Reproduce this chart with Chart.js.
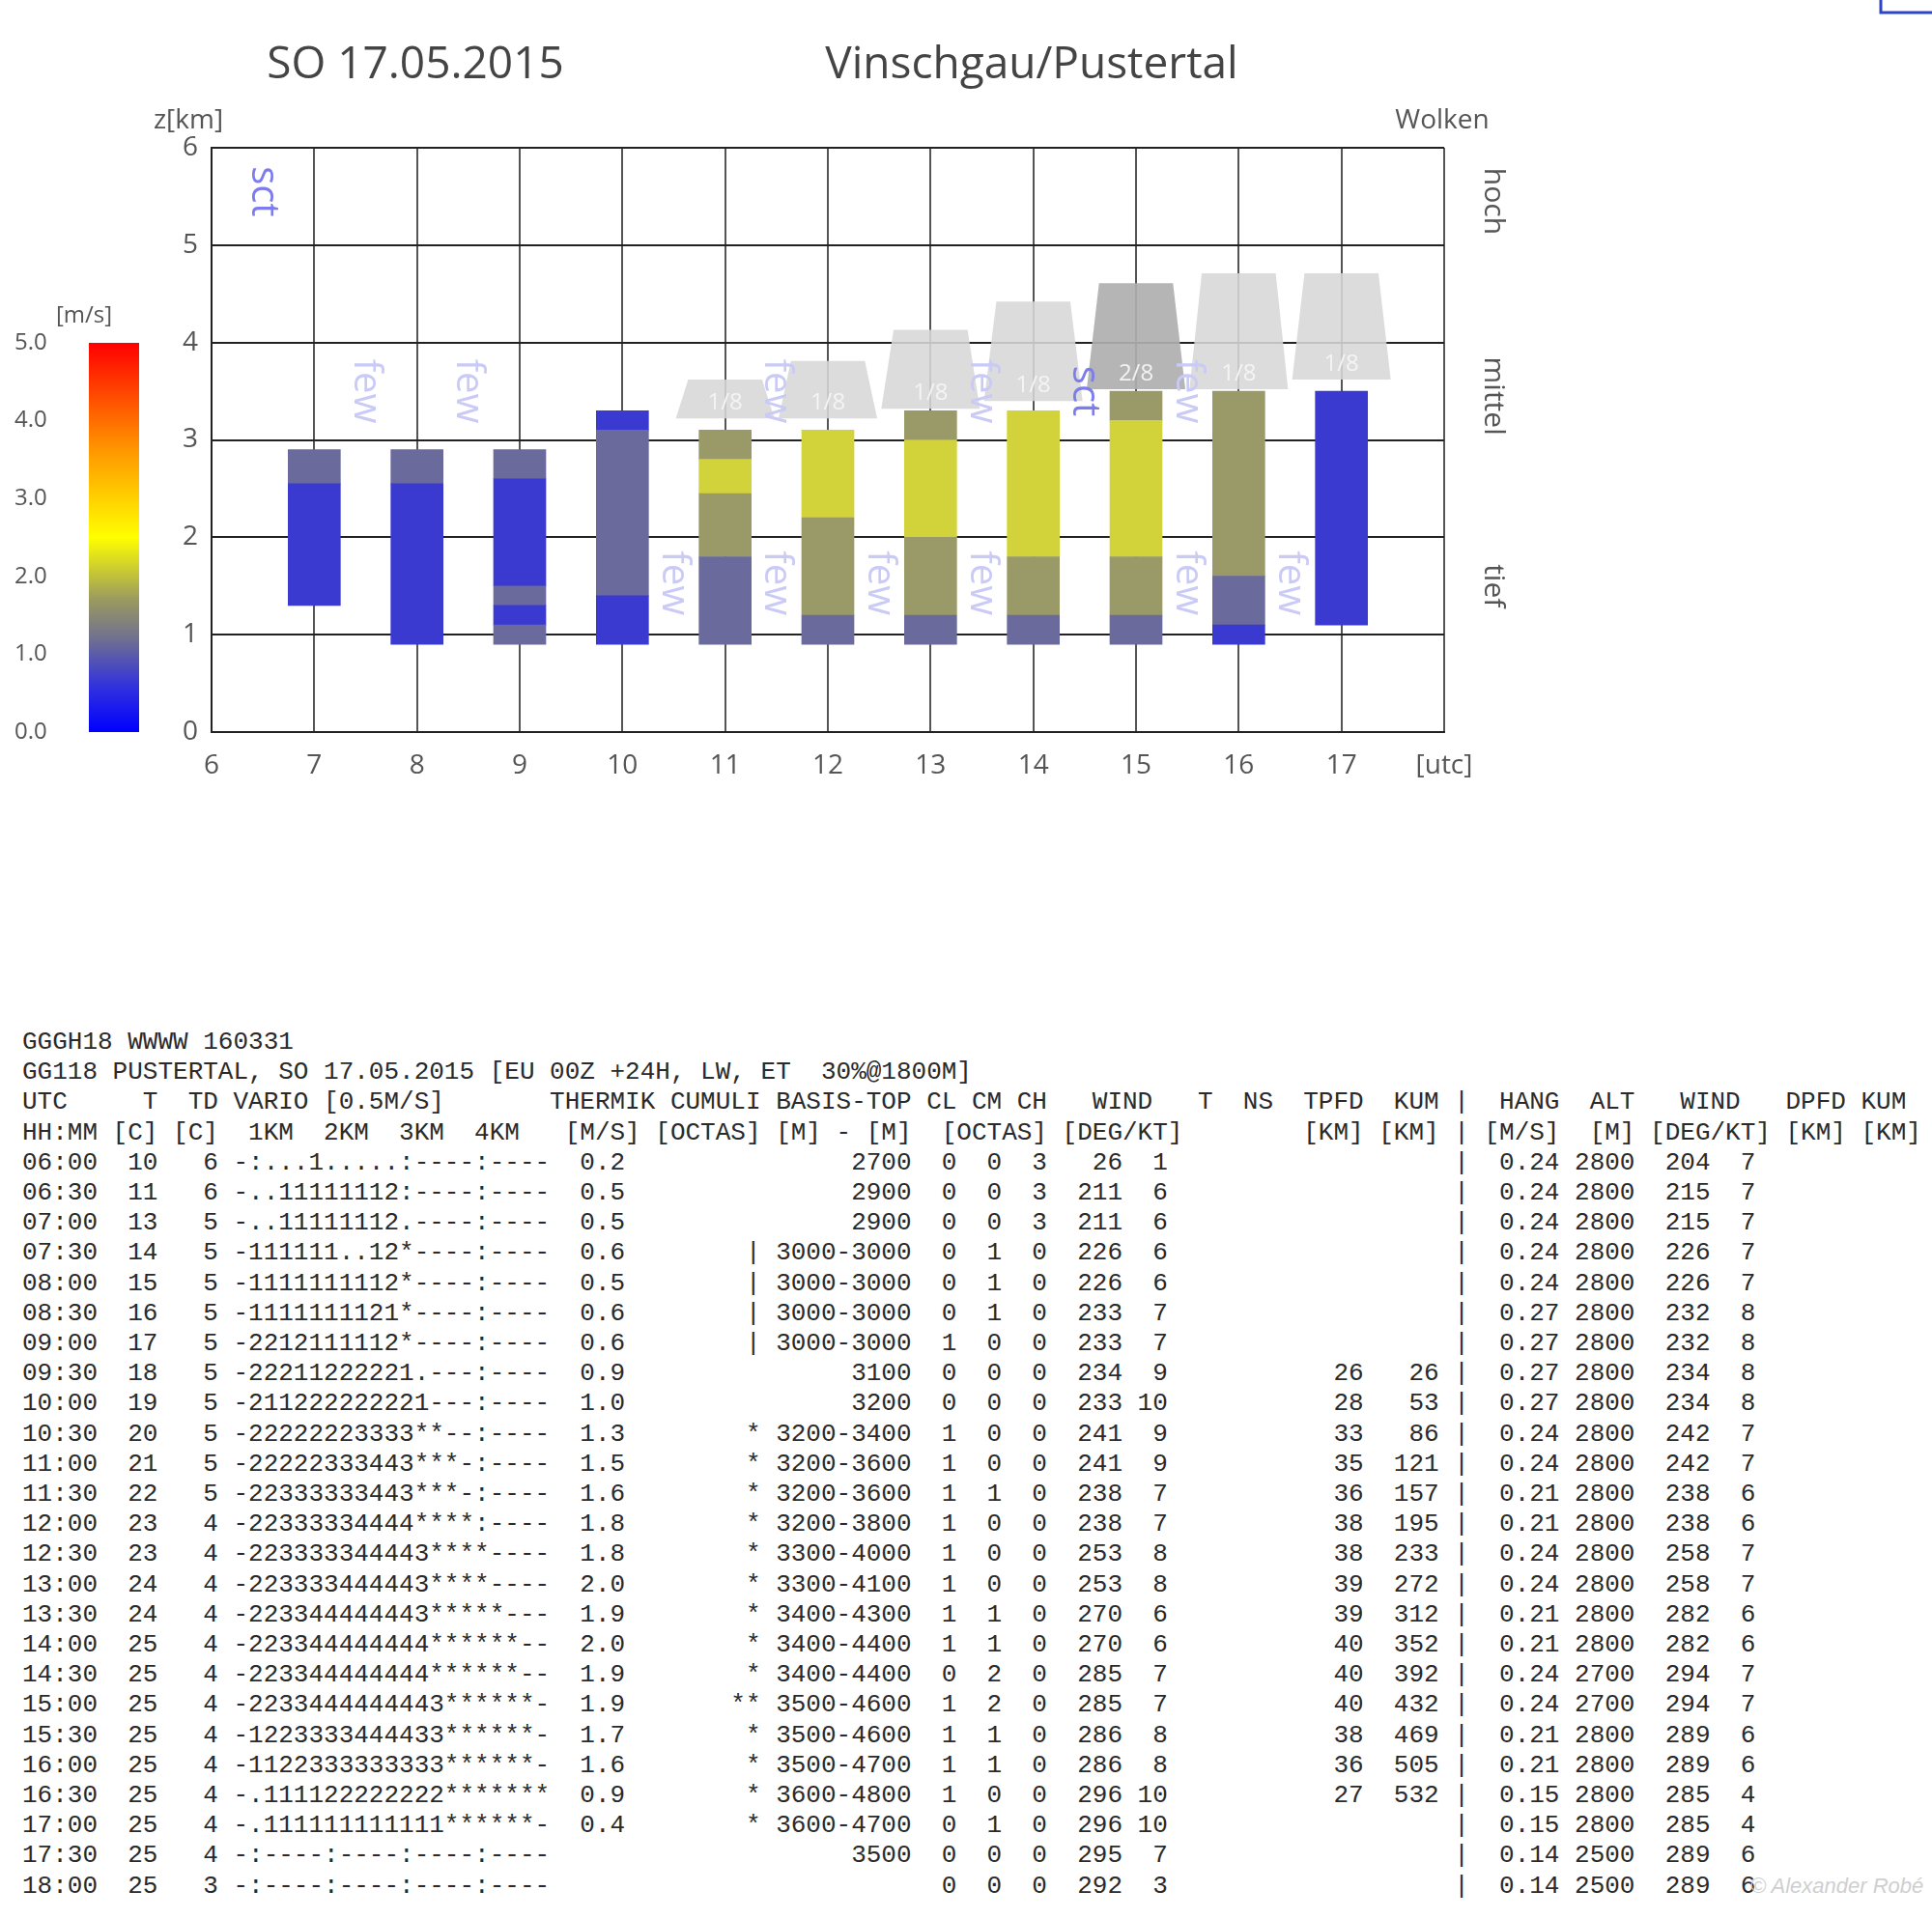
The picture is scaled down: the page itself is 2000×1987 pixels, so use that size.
<!DOCTYPE html>
<html><head><meta charset="utf-8">
<script src="https://cdn.jsdelivr.net/npm/chart.js@4"></script>
<style>
html,body{margin:0;padding:0;background:#fff;width:2000px;height:1987px;overflow:hidden;}
#wrap{position:absolute;left:0;top:0;width:2000px;height:830px;}
#tbl{position:absolute;left:23px;top:1064px;margin:0;font-family:"Liberation Mono",monospace;font-size:26px;line-height:31.2px;color:#2a2a2a;white-space:pre;}
#wm{position:absolute;left:1812px;top:1940px;font-family:"Liberation Sans",sans-serif;font-style:italic;font-size:22px;color:#cfcfcf;}
</style></head><body>
<div id="wrap"><canvas id="c" width="2000" height="830"></canvas></div>
<pre id="tbl"></pre>
<div id="wm">© Alexander Robé</div>
<script>
// ---- data ----
const hourTicks = [6,7,8,9,10,11,12,13,14,15,16,17,18];
const heightTicks = [0,1,2,3,4,5,6];
const colorbarTicks = ['0.0','1.0','2.0','3.0','4.0','5.0'];
// thermal column segments (hour, from km, to km, vario m/s)
const segHour  = [7,7, 8,8, 9,9,9,9,9, 10,10,10, 11,11,11,11, 12,12,12, 13,13,13,13, 14,14,14, 15,15,15,15, 16,16,16, 17];
const segFrom  = [1.3,2.55, 0.9,2.55, 0.9,1.1,1.3,1.5,2.6, 0.9,1.4,3.1, 0.9,1.8,2.45,2.8, 0.9,1.2,2.2, 0.9,1.2,2.0,3.0, 0.9,1.2,1.8, 0.9,1.2,1.8,3.2, 0.9,1.1,1.6, 1.1];
const segTo    = [2.55,2.9, 2.55,2.9, 1.1,1.3,1.5,2.6,2.9, 1.4,3.1,3.3, 1.8,2.45,2.8,3.1, 1.2,2.2,3.1, 1.2,2.0,3.0,3.3, 1.2,1.8,3.3, 1.2,1.8,3.2,3.5, 1.1,1.6,3.5, 3.5];
const segVario = [0.5,1.0, 0.5,1.0, 1.0,0.5,1.0,0.5,1.0, 0.5,1.0,0.5, 1.0,1.5,2.0,1.5, 1.0,1.5,2.0, 1.0,1.5,2.0,1.5, 1.0,1.5,2.0, 1.0,1.5,2.0,1.5, 0.5,1.0,1.5, 0.5];
// cumulus clouds
const cloudHour  = [11,12,13,14,15,16,17];
const cloudBase  = [3.22,3.22,3.32,3.4,3.52,3.52,3.62];
const cloudTop   = [3.62,3.81,4.13,4.42,4.61,4.71,4.71];
const cloudCover = ['1/8','1/8','1/8','1/8','2/8','1/8','1/8'];
// cloud text labels (hour position, km position, text)
const tagHour = [6.5, 7.5,8.5,11.5,13.5,14.5,15.5, 10.5,11.5,12.5,13.5,15.5,16.5];
const tagKm   = [5.55, 3.5,3.5,3.5,3.5,3.5,3.5, 1.53,1.53,1.53,1.53,1.53,1.53];
const tagText = ['sct','few','few','few','few','sct','few','few','few','few','few','few','few'];

const tableHead = [
 'GGGH18 WWWW 160331',
 'GG118 PUSTERTAL, SO 17.05.2015 [EU 00Z +24H, LW, ET  30%@1800M]'
];
const tableRows = [
['06:00','10','6','-:...1.....:----:----','0.2','','2700','0','0','3','26','1','','','0.24','2800','204','7'],
['06:30','11','6','-..11111112:----:----','0.5','','2900','0','0','3','211','6','','','0.24','2800','215','7'],
['07:00','13','5','-..11111112.----:----','0.5','','2900','0','0','3','211','6','','','0.24','2800','215','7'],
['07:30','14','5','-111111..12*----:----','0.6','|','3000-3000','0','1','0','226','6','','','0.24','2800','226','7'],
['08:00','15','5','-1111111112*----:----','0.5','|','3000-3000','0','1','0','226','6','','','0.24','2800','226','7'],
['08:30','16','5','-1111111121*----:----','0.6','|','3000-3000','0','1','0','233','7','','','0.27','2800','232','8'],
['09:00','17','5','-2212111112*----:----','0.6','|','3000-3000','1','0','0','233','7','','','0.27','2800','232','8'],
['09:30','18','5','-22211222221.---:----','0.9','','3100','0','0','0','234','9','26','26','0.27','2800','234','8'],
['10:00','19','5','-211222222221---:----','1.0','','3200','0','0','0','233','10','28','53','0.27','2800','234','8'],
['10:30','20','5','-22222223333**--:----','1.3','*','3200-3400','1','0','0','241','9','33','86','0.24','2800','242','7'],
['11:00','21','5','-22222333443***-:----','1.5','*','3200-3600','1','0','0','241','9','35','121','0.24','2800','242','7'],
['11:30','22','5','-22333333443***-:----','1.6','*','3200-3600','1','1','0','238','7','36','157','0.21','2800','238','6'],
['12:00','23','4','-22333334444****:----','1.8','*','3200-3800','1','0','0','238','7','38','195','0.21','2800','238','6'],
['12:30','23','4','-223333344443****----','1.8','*','3300-4000','1','0','0','253','8','38','233','0.24','2800','258','7'],
['13:00','24','4','-223333444443****----','2.0','*','3300-4100','1','0','0','253','8','39','272','0.24','2800','258','7'],
['13:30','24','4','-223344444443*****---','1.9','*','3400-4300','1','1','0','270','6','39','312','0.21','2800','282','6'],
['14:00','25','4','-223344444444******--','2.0','*','3400-4400','1','1','0','270','6','40','352','0.21','2800','282','6'],
['14:30','25','4','-223344444444******--','1.9','*','3400-4400','0','2','0','285','7','40','392','0.24','2700','294','7'],
['15:00','25','4','-2233444444443******-','1.9','**','3500-4600','1','2','0','285','7','40','432','0.24','2700','294','7'],
['15:30','25','4','-1223333444433******-','1.7','*','3500-4600','1','1','0','286','8','38','469','0.21','2800','289','6'],
['16:00','25','4','-1122333333333******-','1.6','*','3500-4700','1','1','0','286','8','36','505','0.21','2800','289','6'],
['16:30','25','4','-.111122222222*******','0.9','*','3600-4800','1','0','0','296','10','27','532','0.15','2800','285','4'],
['17:00','25','4','-.111111111111******-','0.4','*','3600-4700','0','1','0','296','10','','','0.15','2800','285','4'],
['17:30','25','4','-:----:----:----:----','','','3500','0','0','0','295','7','','','0.14','2500','289','6'],
['18:00','25','3','-:----:----:----:----','','','','0','0','0','292','3','','','0.14','2500','289','6']
];

// ---- table text ----
function lineBuf(){return [];}
function putL(b,s,c){for(let i=0;i<s.length;i++)b[c+i]=s[i];}
function putR(b,s,e){putL(b,s,e-s.length+1);}
function str(b){let o='';for(let i=0;i<b.length;i++)o+=(b[i]===undefined?' ':b[i]);return o;}
const lines=[...tableHead];
let h=lineBuf();
[['UTC',0],['T',8],['TD',11],['VARIO',14],['[0.5M/S]',20],['THERMIK',35],['CUMULI',43],['BASIS-TOP',50],['CL',60],['CM',63],['CH',66],['WIND',71],['T',78],['NS',81],['TPFD',85],['KUM',91],['|',95],['HANG',98],['ALT',104],['WIND',110],['DPFD',117],['KUM',122]].forEach(p=>putL(h,p[0],p[1]));
lines.push(str(h));
h=lineBuf();
[['HH:MM',0],['[C]',6],['[C]',10],['1KM',15],['2KM',20],['3KM',25],['4KM',30],['[M/S]',36],['[OCTAS]',42],['[M]',50],['-',54],['[M]',56],['[OCTAS]',61],['[DEG/KT]',69],['[KM]',85],['[KM]',90],['|',95],['[M/S]',97],['[M]',104],['[DEG/KT]',108],['[KM]',117],['[KM]',122]].forEach(p=>putL(h,p[0],p[1]));
lines.push(str(h));
tableRows.forEach(r=>{
  const b=lineBuf();
  putL(b,r[0],0);putR(b,r[1],8);putR(b,r[2],12);putL(b,r[3],14);putR(b,r[4],39);
  putR(b,r[5],48);
  if(r[6].length>4)putL(b,r[6],50);else putR(b,r[6],58);
  putL(b,r[7],61);putL(b,r[8],64);putL(b,r[9],67);
  putR(b,r[10],72);putR(b,r[11],75);putR(b,r[12],88);putR(b,r[13],93);
  putL(b,'|',95);putL(b,r[14],98);putR(b,r[15],106);putR(b,r[16],111);putR(b,r[17],114);
  lines.push(str(b));
});
document.getElementById('tbl').textContent=lines.join('\n');

// ---- chart ----
function varioColor(v){
  if(v<=0.5) return 'rgba(58,58,208,1)';
  if(v<=1.0) return 'rgba(106,106,156,1)';
  if(v<=1.5) return 'rgba(154,154,104,1)';
  return 'rgba(210,210,58,1)';
}
const datasets = segHour.map((hr,i)=>({
  data:[{x:hr,y:[segFrom[i],segTo[i]]}],
  backgroundColor:varioColor(segVario[i]),
  borderWidth:0, barThickness:54, grouped:false
}));

const deco = {
  id:'deco',
  afterDatasetsDraw(chart){
    const ctx=chart.ctx, xs=chart.scales.x, ys=chart.scales.y;
    ctx.save();
    // clouds
    cloudHour.forEach((hr,i)=>{
      const xb0=xs.getPixelForValue(hr-0.48), xb1=xs.getPixelForValue(hr+0.48);
      const xt0=xs.getPixelForValue(hr-0.36), xt1=xs.getPixelForValue(hr+0.36);
      const yb=ys.getPixelForValue(cloudBase[i]), yt=ys.getPixelForValue(cloudTop[i]);
      ctx.fillStyle = cloudCover[i]==='2/8' ? 'rgba(175,175,175,0.92)' : 'rgba(215,215,215,0.88)';
      ctx.beginPath();ctx.moveTo(xb0,yb);ctx.lineTo(xt0,yt);ctx.lineTo(xt1,yt);ctx.lineTo(xb1,yb);ctx.closePath();ctx.fill();
      ctx.fillStyle='rgba(245,245,245,0.95)';ctx.font='24px "Open Sans"';ctx.textAlign='center';ctx.textBaseline='bottom';
      ctx.fillText(cloudCover[i],xs.getPixelForValue(hr),yb-4);
    });
    // few / sct tags
    tagText.forEach((t,i)=>{
      ctx.save();
      ctx.translate(xs.getPixelForValue(tagHour[i]),ys.getPixelForValue(tagKm[i]));
      ctx.rotate(Math.PI/2);
      ctx.fillStyle = t==='sct' ? '#7c7cec' : '#cacaf6';
      ctx.font='40px "Open Sans"';ctx.textAlign='center';ctx.textBaseline='middle';
      ctx.fillText(t,0,0);
      ctx.restore();
    });
    // titles
    ctx.fillStyle='#444';ctx.textAlign='center';ctx.textBaseline='middle';
    ctx.font='46px "Open Sans"';
    ctx.fillText('SO 17.05.2015',430,68);
    ctx.fillText('Vinschgau/Pustertal',1068,68);
    ctx.font='28px "Open Sans"';ctx.fillStyle='#555';
    ctx.fillText('z[km]',195,125);
    ctx.fillText('Wolken',1493,125);
    ctx.font='24px "Open Sans"';
    ctx.fillText('[m/s]',87,327);
    // right labels
    [['hoch',5.45],['mittel',3.45],['tief',1.5]].forEach(p=>{
      ctx.save();ctx.translate(1546,ys.getPixelForValue(p[1]));ctx.rotate(Math.PI/2);
      ctx.font='30px "Open Sans"';ctx.fillStyle='#555';ctx.fillText(p[0],0,0);ctx.restore();
    });
    // colour bar
    const cbTop=355, cbBot=758;
    const g=ctx.createLinearGradient(0,cbBot,0,cbTop);
    g.addColorStop(0,'#0000ff');g.addColorStop(0.12,'#3333dd');g.addColorStop(0.24,'#707090');
    g.addColorStop(0.34,'#9a9a60');g.addColorStop(0.5,'#ffff00');g.addColorStop(0.72,'#ff9900');g.addColorStop(1,'#ff0000');
    ctx.fillStyle=g;ctx.fillRect(92,cbTop,52,cbBot-cbTop);
    ctx.font='24px "Open Sans"';ctx.fillStyle='#555';ctx.textAlign='left';
    colorbarTicks.forEach((t,i)=>ctx.fillText(t,15,cbBot-i*(cbBot-cbTop)/5));
    // small box top right
    ctx.strokeStyle='#2b44c8';ctx.lineWidth=3;ctx.strokeRect(1947,-3,60,16);
    ctx.restore();
  }
};

new Chart(document.getElementById('c'),{
  type:'bar',
  data:{datasets},
  options:{
    responsive:false, animation:false, devicePixelRatio:1,
    layout:{padding:{left:150,right:505,top:153,bottom:12}},
    plugins:{legend:{display:false},tooltip:{enabled:false}},
    scales:{
      x:{type:'linear',min:6,max:18,offset:false,
        afterBuildTicks(s){s.ticks=hourTicks.map(v=>({value:v}));},
        afterFit(s){s.height=60;},
        grid:{color:'#555',lineWidth:2,drawTicks:false,offset:false},
        border:{color:'#222',width:2},
        ticks:{padding:18,color:'#555',font:{size:28,family:'Open Sans'},maxRotation:0,autoSkip:false,
          callback:v=>v===18?'[utc]':String(v)}},
      y:{type:'linear',min:0,max:6,
        afterBuildTicks(s){s.ticks=heightTicks.map(v=>({value:v}));},
        afterFit(s){s.width=69;},
        grid:{color:'#222',lineWidth:2,drawTicks:false},
        border:{color:'#222',width:2},
        ticks:{padding:14,color:'#555',font:{size:28,family:'Open Sans'}}}
    }
  },
  plugins:[deco]
});
</script>
</body></html>
